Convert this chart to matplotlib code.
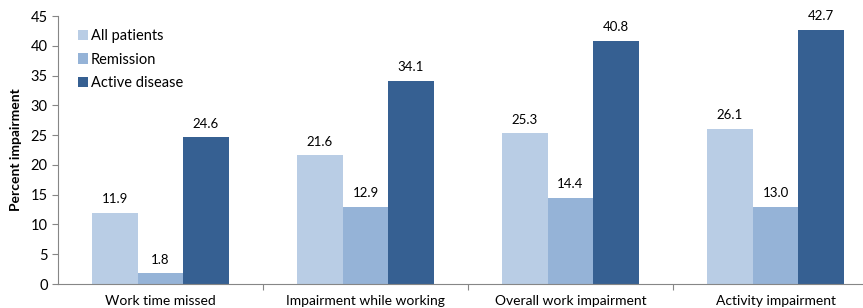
import matplotlib
matplotlib.use("Agg")
from matplotlib import pyplot as plt
import numpy as np

plt.rcParams['font.family'] = ['Lato', 'DejaVu Sans']

categories = ["Work time missed", "Impairment while working",
              "Overall work impairment", "Activity impairment"]
all_patients = [11.9, 21.6, 25.3, 26.1]
remission = [1.8, 12.9, 14.4, 13.0]
active_disease = [24.6, 34.1, 40.8, 42.7]
series_names = ["All patients", "Remission", "Active disease"]
colors = ["#B9CDE5", "#95B3D7", "#366092"]

fig = plt.figure(figsize=(8.63, 3.08), dpi=100)
ax = fig.add_axes([58 / 863, 24 / 308, 820 / 863, 268 / 308])

x = np.arange(len(categories))
width = 1 / 4.5
for i, (vals, name, c) in enumerate(zip([all_patients, remission, active_disease], series_names, colors)):
    pos = x + (i - 1) * width
    ax.bar(pos, vals, width=width, color=c, label=name)
    for p, v in zip(pos, vals):
        ax.text(p, v + 1.3, f"{v:.1f}", ha='center', va='bottom', fontsize=9.5)

ax.set_xlim(-0.5, len(categories) - 0.5)
ax.set_ylim(0, 45)
ax.set_yticks(range(0, 46, 5))
ax.tick_params(axis='y', labelsize=10.5, length=4, color='#868686', width=0.8)
ax.set_xticks(x)
ax.set_xticklabels(categories, fontsize=10)
ax.tick_params(axis='x', length=0, pad=8)
ax.set_xticks(np.arange(0.5, len(categories) - 0.5, 1), minor=True)
ax.tick_params(axis='x', which='minor', length=4, color='#868686', width=0.8)
ax.set_ylabel("Percent impairment", fontsize=10, fontweight='bold', labelpad=6)

for side in ['top', 'right']:
    ax.spines[side].set_visible(False)
for side in ['left', 'bottom']:
    ax.spines[side].set_color('#868686')
    ax.spines[side].set_linewidth(0.8)

ax.legend(loc='upper left', bbox_to_anchor=(0.008, 1.0), frameon=False,
          fontsize=10.5, handlelength=0.7, handleheight=0.7, handletextpad=0.2,
          labelspacing=0.65)

fig.savefig("out.png", dpi=100)
